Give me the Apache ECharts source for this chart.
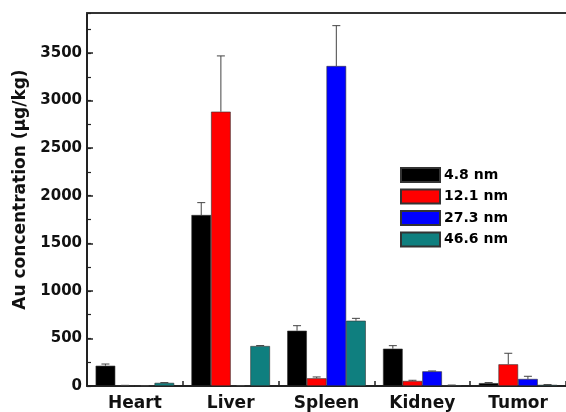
<!DOCTYPE html>
<html>
<head>
<meta charset="utf-8">
<script src="https://cdn.jsdelivr.net/npm/echarts@6/dist/echarts.min.js"></script>
<style>
  html, body { margin: 0; padding: 0; background: #fff; }
  #chart { width: 566px; height: 412px; }
</style>
</head>
<body>
<div id="chart"></div>
<script>
// Organ categories and particle sizes
const organs = ['Heart', 'Liver', 'Spleen', 'Kidney', 'Tumor'];
const sizes = ['4.8 nm', '12.1 nm', '27.3 nm', '46.6 nm'];
const colors = ['#000000', '#ff0000', '#0000ff', '#0f7f7f'];

// Mean Au concentration (µg/kg) per organ, one array per particle size
const mean48 = [213, 1797, 581, 392, 30];
const mean121 = [5, 2883, 81, 53, 228];
const mean273 = [2, 3, 3363, 154, 74];
const mean466 = [33, 420, 686, 8, 12];

// Upper end of each error bar (mean + SD)
const upper48 = [231, 1927, 634, 424, 36];
const upper121 = [7, 3469, 95, 60, 344];
const upper273 = [3, 4, 3787, 158, 102];
const upper466 = [36, 425, 711, 10, 15];

const means = [mean48, mean121, mean273, mean466];
const uppers = [upper48, upper121, upper273, upper466];

const yTicks = [0, 500, 1000, 1500, 2000, 2500, 3000, 3500];

const FONT = 'DejaVu Sans';
const CAT_GAP = 0.18;

const chart = echarts.init(document.getElementById('chart'));

const barSeries = sizes.map((name, i) => ({
  name: name,
  type: 'bar',
  barGap: '0%',
  barCategoryGap: (CAT_GAP * 100) + '%',
  data: means[i],
  itemStyle: { color: colors[i], borderColor: '#333', borderWidth: 0.6 },
  z: 2
}));

// Upward error bars with caps, placed over each bar of the group
const errSeries = sizes.map((name, i) => ({
  type: 'custom',
  name: name + ' err',
  data: organs.map((o, j) => [j, means[i][j], uppers[i][j]]),
  z: 3,
  silent: true,
  renderItem: function (params, api) {
    const c = api.value(0);
    const lo = api.coord([c, api.value(1)]);
    const hi = api.coord([c, api.value(2)]);
    const band = api.size([1, 0])[0];
    const bw = band * (1 - CAT_GAP) / sizes.length;
    const x = lo[0] + (i - (sizes.length - 1) / 2) * bw;
    const cap = 4;
    const style = { stroke: '#444', lineWidth: 1 };
    return {
      type: 'group',
      children: [
        { type: 'line', shape: { x1: x, y1: lo[1], x2: x, y2: hi[1] }, style: style },
        { type: 'line', shape: { x1: x - cap, y1: hi[1], x2: x + cap, y2: hi[1] }, style: style }
      ]
    };
  }
}));

chart.setOption({
  animation: false,
  backgroundColor: '#fff',
  grid: { left: 87, top: 13, right: -11, bottom: 26, containLabel: false },
  legend: {
    data: sizes,
    left: 400,
    top: 167,
    padding: 0,
    orient: 'vertical',
    itemWidth: 39,
    itemHeight: 14,
    itemGap: 5.5,
    icon: 'rect',
    textStyle: { fontFamily: FONT, fontWeight: 'bold', fontSize: 14, color: '#000', padding: [0, 0, 0, -1] }
  },
  xAxis: [
    {
      type: 'category',
      data: organs,
      position: 'bottom',
      axisLine: { onZero: false, lineStyle: { color: '#222', width: 2 } },
      axisTick: { show: true, inside: true, length: 5, lineStyle: { color: '#222', width: 1.5 } },
      axisLabel: { fontFamily: FONT, fontWeight: 'bold', fontSize: 17, color: '#111', margin: 9 }
    },
    {
      type: 'category',
      data: organs,
      position: 'top',
      axisLine: { show: true, onZero: false, lineStyle: { color: '#333', width: 2 } },
      axisTick: { show: false },
      axisLabel: { show: false }
    }
  ],
  yAxis: [
    {
      type: 'value',
      min: 0,
      max: 3920,
      interval: 500,
      name: 'Au concentration (μg/kg)',
      nameLocation: 'middle',
      nameGap: 51,
      nameTextStyle: { fontFamily: FONT, fontWeight: 'bold', fontSize: 17, color: '#111', padding: [0, 0, 0, 20] },
      axisLine: { show: true, onZero: false, lineStyle: { color: '#222', width: 2 } },
      axisTick: { show: true, inside: true, length: 6, lineStyle: { color: '#222', width: 1.5 } },
      axisLabel: {
        fontFamily: FONT, fontWeight: 'bold', fontSize: 15, color: '#111', margin: 5,
        showMaxLabel: false,
        formatter: v => (yTicks.indexOf(v) >= 0 ? String(v) : '')
      },
      splitLine: { show: false }
    },
    {
      // minor ticks every 250
      type: 'value',
      min: 0,
      max: 3920,
      interval: 250,
      position: 'left',
      axisLine: { show: false },
      axisTick: { show: true, inside: true, length: 4, lineStyle: { color: '#222', width: 1.2 } },
      axisLabel: { show: false },
      splitLine: { show: false }
    }
  ],
  series: barSeries.concat(errSeries)
});
</script>
</body>
</html>
